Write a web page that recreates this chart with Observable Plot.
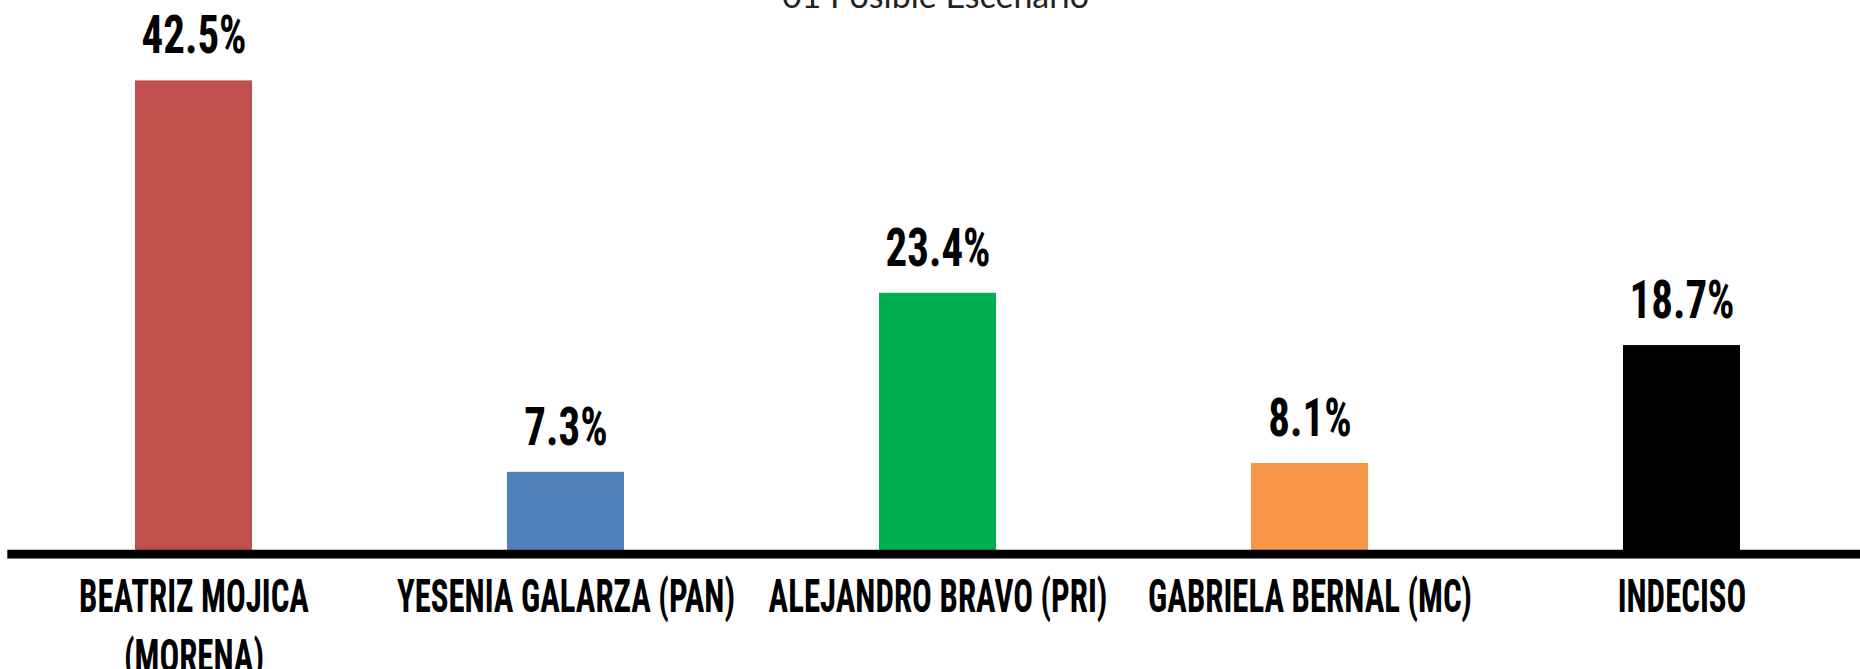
<!DOCTYPE html>
<html>
<head>
<meta charset="utf-8">
<script src="https://cdn.jsdelivr.net/npm/d3@7"></script>
<script src="https://cdn.jsdelivr.net/npm/@observablehq/plot@0.6"></script>
<style>
  html, body { margin: 0; padding: 0; background: #fff; overflow: hidden; }
  #wrap { position: relative; width: 1860px; height: 669px; overflow: hidden; }
  #title { position: absolute; left: 0; width: 1871px; top: -22px; text-align: center;
           font-family: Lato, "Open Sans", sans-serif; font-size: 34px; line-height: 34px; color: #222; white-space: nowrap; z-index: 2; }
  #chart { position: absolute; left: 0; top: 0; }
</style>
</head>
<body>
<div id="wrap">
  <div id="title"></div>
  <div id="chart"></div>
</div>
<script>
const title = "01 Posible Escenario";
const candidates = ["BEATRIZ MOJICA\n(MORENA)", "YESENIA GALARZA (PAN)", "ALEJANDRO BRAVO (PRI)", "GABRIELA BERNAL (MC)", "INDECISO"];
const percentages = [42.5, 7.3, 23.4, 8.1, 18.7];
const barColors = ["#C0504D", "#4F81BD", "#00B050", "#F79646", "#000000"];

const data = candidates.map((c, i) => ({candidate: c, value: percentages[i]}));
document.getElementById("title").textContent = title;

const condensed = "'Roboto Condensed', 'DejaVu Sans Condensed', sans-serif";

const chart = Plot.plot({
  width: 1860,
  height: 669,
  marginLeft: 7.3,
  marginRight: 0,
  marginTop: 0,
  marginBottom: 0,
  style: {background: "#fff", overflow: "visible"},
  x: {domain: candidates, range: [7.3, 1867.3], paddingInner: 0.685, paddingOuter: 0.3425, axis: null},
  y: {domain: [0, 45], range: [553, 52.6], axis: null},
  color: {domain: candidates, range: barColors},
  marks: [
    Plot.barY(data, {x: "candidate", y: "value", fill: "candidate"}),
    Plot.ruleY([0], {stroke: "#000", strokeWidth: 8.7, dy: 0.6}),
    Plot.text(data, {
      x: "candidate", y: "value",
      text: d => d.value.toFixed(1) + "%",
      lineAnchor: "bottom", dy: -27.5,
      fontSize: 53, fontWeight: "bold", fontFamily: condensed, fill: "#000"
    }),
    Plot.text(data, {
      x: "candidate", y: () => 0,
      text: "candidate",
      lineAnchor: "top", dy: 16, lineHeight: 1.32,
      fontSize: 45.5, fontWeight: "bold", fontFamily: condensed, fill: "#000"
    })
  ]
});
document.getElementById("chart").append(chart);

function squeeze(group, targetWidth) {
  const texts = group.querySelectorAll("text");
  const ref = texts[0];
  const first = ref.querySelector("tspan") || ref;
  const w = first.getComputedTextLength();
  const k = targetWidth / w;
  texts.forEach(t => {
    const tr = t.getAttribute("transform");
    if (tr) {
      t.setAttribute("transform", tr + ` scale(${k},1)`);
    } else {
      const x = +t.getAttribute("x") || 0, y = +t.getAttribute("y") || 0;
      t.setAttribute("transform", `translate(${x},${y}) scale(${k},1) translate(${-x},${-y})`);
    }
  });
}
const textGroups = chart.querySelectorAll('g[aria-label="text"]');
squeeze(textGroups[0], 105);
squeeze(textGroups[1], 230);
</script>
</body>
</html>
